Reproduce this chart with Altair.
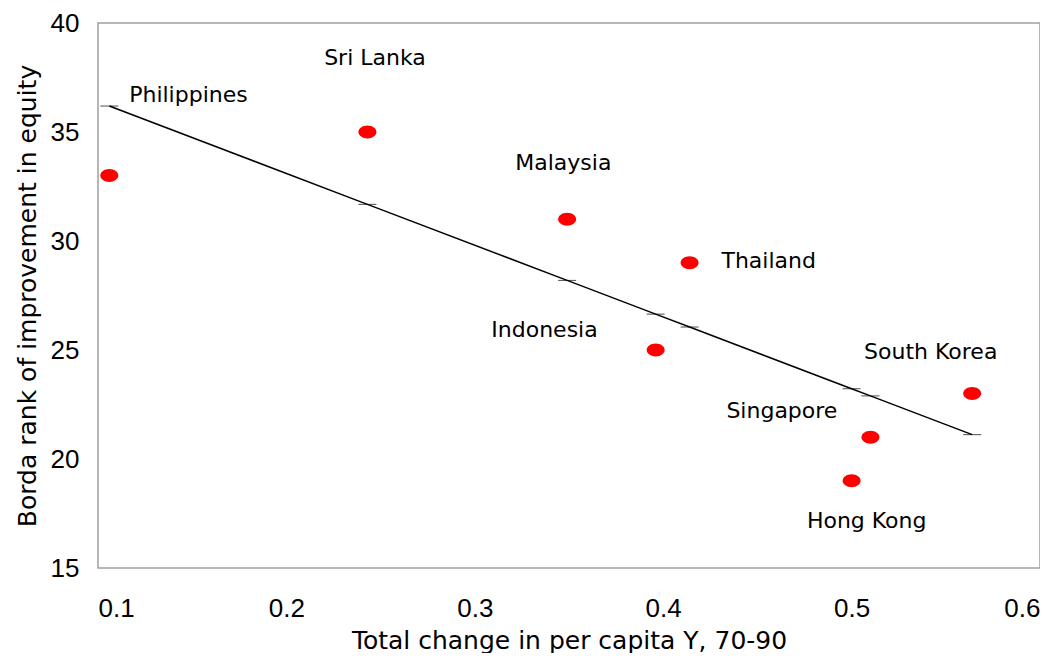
import altair as alt
import pandas as pd

countries = ["Philippines", "Sri Lanka", "Malaysia", "Thailand", "Indonesia",
             "South Korea", "Singapore", "Hong Kong"]
income_change = [0.106, 0.243, 0.349, 0.414, 0.396, 0.564, 0.510, 0.500]
equity_rank = [33, 35, 31, 29, 25, 23, 21, 19]
label_x = [0.148, 0.247, 0.347, 0.456, 0.337, 0.542, 0.463, 0.508]
label_y = [36.7, 38.4, 33.6, 29.1, 25.9, 24.9, 22.2, 17.15]

df = pd.DataFrame({
    "country": countries,
    "x": income_change,
    "y": equity_rank,
    "lx": label_x,
    "ly": label_y,
})

xscale = alt.Scale(domain=[0.1, 0.6], nice=False, zero=False)
yscale = alt.Scale(domain=[15, 40], nice=False, zero=False)

xaxis = alt.Axis(title="Total change in per capita Y, 70-90",
                 values=[0.1, 0.2, 0.3, 0.4, 0.5, 0.6], format=".1f",
                 labelPadding=27, titlePadding=7)
yaxis = alt.Axis(title="Borda rank of improvement in equity",
                 values=[15, 20, 25, 30, 35, 40], labelPadding=19, titlePadding=10)

base = alt.Chart(df)

fit = base.transform_calculate(
    xy="datum.x * datum.y", xx="datum.x * datum.x"
).transform_joinaggregate(
    mx="mean(x)", my="mean(y)", mxy="mean(xy)", mxx="mean(xx)"
).transform_calculate(
    slope="(datum.mxy - datum.mx * datum.my) / (datum.mxx - datum.mx * datum.mx)"
).transform_calculate(
    fit="datum.my + datum.slope * (datum.x - datum.mx)"
)

line = fit.mark_line(color="black", strokeWidth=1.5).encode(
    x=alt.X("x:Q", scale=xscale, axis=xaxis),
    y=alt.Y("fit:Q", scale=yscale, axis=yaxis),
    order="x:Q",
)

ticks = fit.mark_tick(orient="horizontal", size=18, thickness=1, color="black").encode(
    x=alt.X("x:Q", scale=xscale),
    y=alt.Y("fit:Q", scale=yscale),
)

ellipse = "M-1,0A1,0.72,0,1,0,1,0A1,0.72,0,1,0,-1,0Z"
points = base.mark_point(shape=ellipse, filled=True, color="#ff0000", size=324, opacity=1).encode(
    x=alt.X("x:Q", scale=xscale),
    y=alt.Y("y:Q", scale=yscale),
)

labels = base.mark_text(font="DejaVu Sans", fontSize=22, align="center",
                        baseline="middle", color="black").encode(
    x=alt.X("lx:Q", scale=xscale),
    y=alt.Y("ly:Q", scale=yscale),
    text="country:N",
)

chart = alt.layer(line, ticks, points, labels).properties(
    width=942, height=545,
    padding={"left": 7, "top": 2, "right": 0, "bottom": 0},
    background="white",
).configure_view(
    stroke="#a0a0a0", strokeWidth=1.5
).configure_axis(
    grid=False, ticks=False, tickSize=0, domain=False,
    labelFont="Liberation Sans", labelFontSize=26, labelColor="black",
    titleFont="DejaVu Sans", titleFontSize=25, titleFontWeight="normal",
    titleColor="black",
)

chart.save("out.html", embed_options={"renderer": "svg", "actions": False})
